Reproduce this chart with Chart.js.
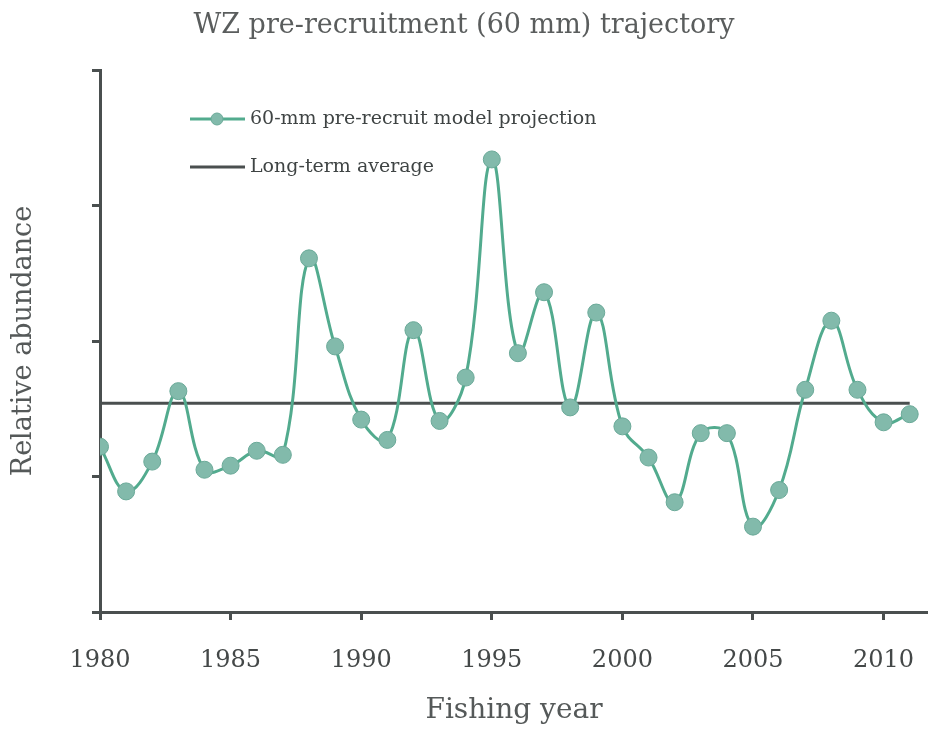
<!DOCTYPE html>
<html>
<head>
<meta charset="utf-8">
<script src="https://cdn.jsdelivr.net/npm/chart.js@4"></script>
<style>
  html, body { margin: 0; padding: 0; background: #fff; }
  #wrap { width: 928px; height: 731px; }
</style>
</head>
<body>
<div id="wrap"><canvas id="chart"></canvas></div>
<script>
// --- data ---
var years = [1980, 1981, 1982, 1983, 1984, 1985, 1986, 1987, 1988, 1989,
             1990, 1991, 1992, 1993, 1994, 1995, 1996, 1997, 1998, 1999,
             2000, 2001, 2002, 2003, 2004, 2005, 2006, 2007, 2008, 2009,
             2010, 2011];
var projection = [1.22, 0.89, 1.11, 1.63, 1.05, 1.08, 1.19, 1.16, 2.61, 1.96,
                  1.42, 1.27, 2.08, 1.41, 1.73, 3.34, 1.91, 2.36, 1.51, 2.21,
                  1.37, 1.14, 0.81, 1.32, 1.32, 0.63, 0.90, 1.64, 2.15, 1.64,
                  1.40, 1.46];
var longTermAverage = 1.54;
var xTicks = [1980, 1985, 1990, 1995, 2000, 2005, 2010];

var serif = '"DejaVu Serif", "Liberation Serif", serif';
var green = '#52ab8e';
var dark = '#4a4f4f';

// legend drawn inside the plot, like the original
var innerLegend = {
    id: 'innerLegend',
    afterDraw: function (chart) {
        var ctx = chart.ctx;
        var sets = chart.data.datasets;
        var rows = [119, 167];
        ctx.save();
        sets.forEach(function (ds, i) {
            var y = rows[i];
            ctx.strokeStyle = ds.borderColor;
            ctx.lineWidth = 3;
            ctx.beginPath();
            ctx.moveTo(190, y);
            ctx.lineTo(245, y);
            ctx.stroke();
            if (ds.pointRadius > 0) {
                ctx.fillStyle = ds.pointBackgroundColor;
                ctx.strokeStyle = ds.pointBorderColor;
                ctx.lineWidth = 1;
                ctx.beginPath();
                ctx.arc(217, y, 6, 0, Math.PI * 2);
                ctx.fill();
                ctx.stroke();
            }
            ctx.fillStyle = '#3f4444';
            ctx.font = '19px ' + serif;
            ctx.textBaseline = 'middle';
            ctx.textAlign = 'left';
            ctx.fillText(ds.label, 250, y);
        });
        ctx.restore();
    }
};

new Chart(document.getElementById('chart').getContext('2d'), {
    type: 'line',
    data: {
        datasets: [{
            label: '60-mm pre-recruit model projection',
            data: years.map(function (y, i) { return { x: y, y: projection[i] }; }),
            borderColor: green,
            borderWidth: 3,
            tension: 0.4,
            pointRadius: 8.5,
            pointBackgroundColor: '#82baab',
            pointBorderColor: '#6aa998',
            pointBorderWidth: 1
        }, {
            label: 'Long-term average',
            data: years.map(function (y) { return { x: y, y: longTermAverage }; }),
            borderColor: dark,
            borderWidth: 3,
            pointRadius: 0,
            order: 1
        }]
    },
    options: {
        responsive: true,
        maintainAspectRatio: false,
        animation: false,
        layout: { autoPadding: false, padding: { top: 0, right: 0, bottom: 0, left: 0 } },
        plugins: {
            legend: { display: false },
            tooltip: { enabled: false },
            title: {
                display: true,
                text: 'WZ pre-recruitment (60 mm) trajectory',
                color: '#5a5d5d',
                font: { family: serif, size: 27, weight: 'normal' },
                padding: { top: 10, bottom: 27.6 }
            }
        },
        scales: {
            x: {
                type: 'linear',
                min: 1980,
                max: 2011.7,
                afterBuildTicks: function (scale) {
                    scale.ticks = xTicks.map(function (v) { return { value: v }; });
                },
                afterFit: function (scale) {
                    scale.height = 119;
                    scale.paddingLeft = 0;
                    scale.paddingRight = 0;
                },
                border: { color: dark, width: 3 },
                grid: { drawOnChartArea: false, drawTicks: true, tickLength: 8, tickWidth: 3, color: dark },
                ticks: {
                    padding: 26,
                    color: '#444848',
                    font: { family: serif, size: 24 },
                    maxRotation: 0,
                    autoSkip: false,
                    callback: function (v) { return String(v); }
                },
                title: {
                    display: true,
                    text: 'Fishing year',
                    color: '#555959',
                    font: { family: serif, size: 28 },
                    padding: { top: 0, bottom: 3 }
                }
            },
            y: {
                min: 0,
                max: 4,
                afterFit: function (scale) { scale.width = 100; },
                border: { color: dark, width: 3 },
                grid: { drawOnChartArea: false, drawTicks: true, tickLength: 8, tickWidth: 3, color: dark },
                ticks: {
                    stepSize: 1,
                    callback: function () { return ''; }
                },
                title: {
                    display: true,
                    text: 'Relative abundance',
                    color: '#555959',
                    font: { family: serif, size: 27 },
                    padding: { top: 8, bottom: 0 }
                }
            }
        }
    },
    plugins: [innerLegend]
});
</script>
</body>
</html>
